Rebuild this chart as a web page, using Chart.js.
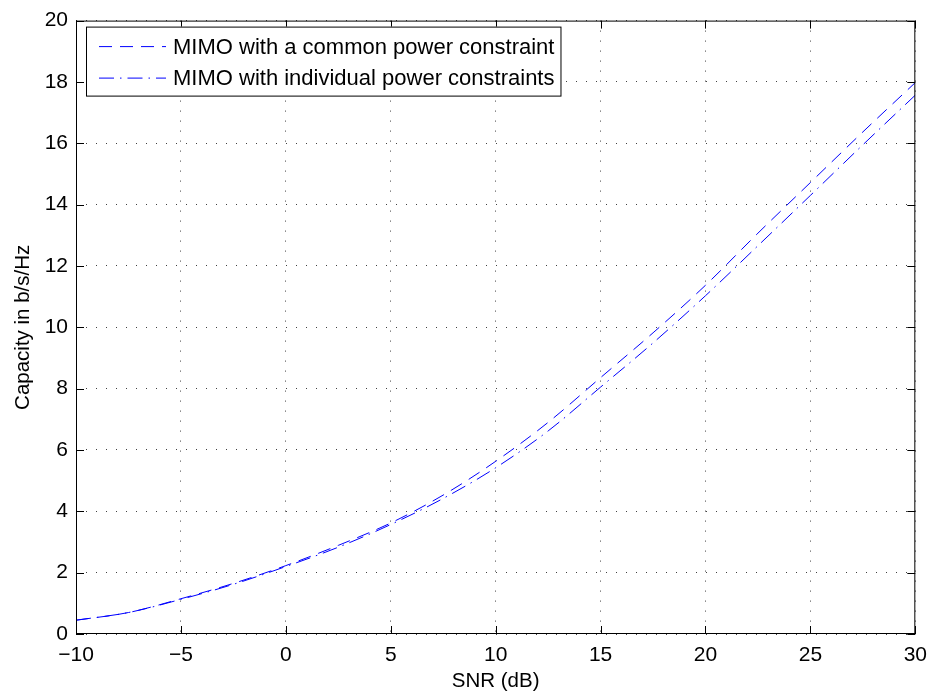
<!DOCTYPE html>
<html>
<head>
<meta charset="utf-8">
<script src="https://cdn.jsdelivr.net/npm/chart.js@4.4.0/dist/chart.umd.min.js"></script>
<style>
  html, body { margin: 0; padding: 0; background: #fff; }
  #wrap { width: 936px; height: 698px; }
</style>
</head>
<body>
<div id="wrap"><canvas id="myChart" width="936" height="698"></canvas></div>
<script>
// values
var snr = [-10, -7.5, -5, -2.5, 0, 2.5, 5, 7.5, 10, 12.5, 15, 17.5, 20, 22.5, 25, 27.5, 30];
var capCommon = [0.45, 0.70, 1.15, 1.65, 2.23, 2.89, 3.62, 4.53, 5.63, 6.90, 8.36, 9.82, 11.37, 13.07, 14.72, 16.37, 17.98];
var capIndividual = [0.45, 0.70, 1.13, 1.62, 2.20, 2.83, 3.57, 4.42, 5.42, 6.62, 8.05, 9.49, 11.03, 12.66, 14.30, 15.95, 17.57];
var xTicks = [-10, -5, 0, 5, 10, 15, 20, 25, 30];
var yTicks = [0, 2, 4, 6, 8, 10, 12, 14, 16, 18, 20];
var seriesNames = ["MIMO with a common power constraint", "MIMO with individual power constraints"];

var FONT = "Liberation Sans, Arial, Helvetica, sans-serif";
var dashCommon = [13, 8];
var dashIndividual = [15, 6, 1.5, 6];

function toPoints(xs, ys) {
    return xs.map(function(x, i){ return {x: x, y: ys[i]}; });
}
function minus(v) {
    return String(v).replace("-", "\u2212");
}

// box, inward ticks and the boxed legend, MATLAB style
var matlabFrame = {
    id: 'matlabFrame',
    afterDraw: function(chart) {
        var ctx = chart.ctx;
        var a = chart.chartArea;
        var sx = chart.scales.x, sy = chart.scales.y;
        var tl = 8;
        ctx.save();
        ctx.strokeStyle = "#000";
        ctx.lineWidth = 1;
        ctx.setLineDash([]);
        ctx.strokeRect(a.left + 0.5, a.top + 0.5, a.right - a.left - 1, a.bottom - a.top - 1);
        ctx.beginPath();
        xTicks.forEach(function(v){
            var px = Math.round(sx.getPixelForValue(v)) + 0.5;
            ctx.moveTo(px, a.bottom); ctx.lineTo(px, a.bottom - tl);
            ctx.moveTo(px, a.top); ctx.lineTo(px, a.top + tl);
        });
        yTicks.forEach(function(v){
            var py = Math.round(sy.getPixelForValue(v)) + 0.5;
            ctx.moveTo(a.left, py); ctx.lineTo(a.left + tl, py);
            ctx.moveTo(a.right, py); ctx.lineTo(a.right - tl, py);
        });
        ctx.stroke();

        // legend
        ctx.font = "22px " + FONT;
        var textW = Math.max.apply(null, seriesNames.map(function(s){ return ctx.measureText(s).width; }));
        var bx = a.left + 10, by = a.top + 6;
        var textX = bx + 87;
        var bw = textX - bx + textW + 6, bh = 69;
        ctx.fillStyle = "#fff";
        ctx.fillRect(bx, by, bw, bh);
        ctx.strokeRect(bx + 0.5, by + 0.5, bw, bh);
        var dashes = [dashCommon, dashIndividual];
        chart.data.datasets.forEach(function(ds, i){
            var ly = by + 20 + i * 31.5;
            ctx.strokeStyle = ds.borderColor;
            ctx.setLineDash(dashes[i]);
            ctx.beginPath();
            ctx.moveTo(bx + 13, ly);
            ctx.lineTo(bx + 80, ly);
            ctx.stroke();
            ctx.setLineDash([]);
            ctx.fillStyle = "#000";
            ctx.textBaseline = "middle";
            ctx.textAlign = "left";
            ctx.fillText(seriesNames[i], textX, ly + 1);
        });
        ctx.restore();
    }
};

var ctx = document.getElementById("myChart");

var data = {
    datasets: [{
        label: seriesNames[0],
        data: toPoints(snr, capCommon),
        borderColor: "#0000ff",
        borderWidth: 1,
        borderDash: dashCommon,
        pointRadius: 0,
        fill: false,
        cubicInterpolationMode: 'monotone'
    }, {
        label: seriesNames[1],
        data: toPoints(snr, capIndividual),
        borderColor: "#0000ff",
        borderWidth: 1,
        borderDash: dashIndividual,
        pointRadius: 0,
        fill: false,
        cubicInterpolationMode: 'monotone'
    }]
};

var gridOpts = {
    color: "rgba(0,0,0,0.75)",
    lineWidth: 1,
    drawTicks: false
};

var options = {
    responsive: false,
    animation: false,
    devicePixelRatio: 1,
    layout: { padding: { left: 0, top: 14, right: 16, bottom: 0 } },
    plugins: {
        legend: { display: false },
        tooltip: { enabled: false }
    },
    scales: {
        x: {
            type: 'linear',
            min: -10,
            max: 30,
            afterBuildTicks: function(axis){
                axis.ticks = xTicks.map(function(v){ return {value: v}; });
            },
            afterFit: function(axis){ axis.height = 64; },
            grid: gridOpts,
            border: { display: false, dash: [1, 9] },
            ticks: {
                color: "#000",
                padding: 9,
                maxRotation: 0,
                font: { family: FONT, size: 21 },
                callback: function(v){ return minus(v); }
            },
            title: {
                display: true,
                text: "SNR (dB)",
                color: "#000",
                font: { family: FONT, size: 20.5 },
                padding: { top: 0, bottom: 4 }
            }
        },
        y: {
            type: 'linear',
            min: 0,
            max: 20,
            afterBuildTicks: function(axis){
                axis.ticks = yTicks.map(function(v){ return {value: v}; });
            },
            afterFit: function(axis){ axis.width = 76; },
            grid: gridOpts,
            border: { display: false, dash: [1, 9] },
            ticks: {
                color: "#000",
                padding: 8,
                font: { family: FONT, size: 21 },
                callback: function(v){ return minus(v); }
            },
            title: {
                display: true,
                text: "Capacity in b/s/Hz",
                color: "#000",
                font: { family: FONT, size: 20.5 },
                padding: { top: 11, bottom: 0 }
            }
        }
    }
};

var myChart = new Chart(ctx, {
    type: 'line',
    data: data,
    options: options,
    plugins: [matlabFrame]
});
</script>
</body>
</html>
